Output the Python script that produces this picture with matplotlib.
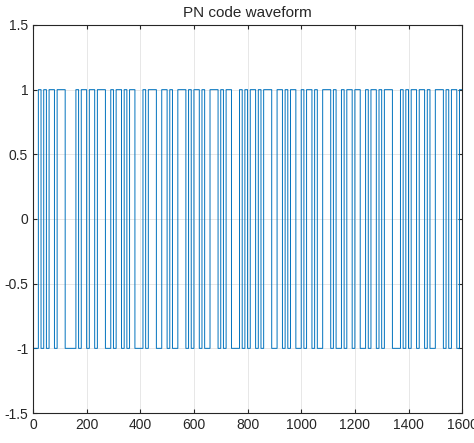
import numpy as np
import matplotlib
matplotlib.use('Agg')
import matplotlib.pyplot as plt

plt.rcParams['font.family'] = ['Liberation Sans', 'DejaVu Sans']

# PN chip sequence (1 -> +1, 0 -> -1), 10 samples per chip
chip_bits = ("00101011011100001011"
             "01101110010110101100"
             "01011100110100111010"
             "11010011101011000101"
             "01101011100110101100"
             "10110100111010010110"
             "11001011010111000101"
             "01101101001110101101")
samples_per_chip = 10

chips = np.array([1 if b == '1' else -1 for b in chip_bits])
wave = np.repeat(chips, samples_per_chip)
n = np.arange(len(wave) + 1)
wave = np.append(wave, wave[-1])

fig = plt.figure(figsize=(4.74, 4.43), dpi=100)
ax = fig.add_axes([0.0696, 0.0677, 0.9054, 0.8759])

ax.plot(n, wave, drawstyle='steps-post', color='#0072BD', linewidth=0.7)

ax.set_xlim(0, 1600)
ax.set_ylim(-1.5, 1.5)
ax.set_xticks(np.arange(0, 1601, 200))
ax.set_yticks(np.arange(-1.5, 1.51, 0.5))
ax.set_yticklabels(['-1.5', '-1', '-0.5', '0', '0.5', '1', '1.5'])
ax.grid(True, color='#e3e3e3', linewidth=0.6)
ax.set_axisbelow(True)
ax.tick_params(direction='in', length=3, labelsize=10, colors='#262626',
               top=True, right=True)
for s in ax.spines.values():
    s.set_color('#262626')
    s.set_linewidth(0.8)
ax.set_title('PN code waveform', fontsize=11, color='#262626', pad=6)

fig.savefig('out.png', dpi=100)
